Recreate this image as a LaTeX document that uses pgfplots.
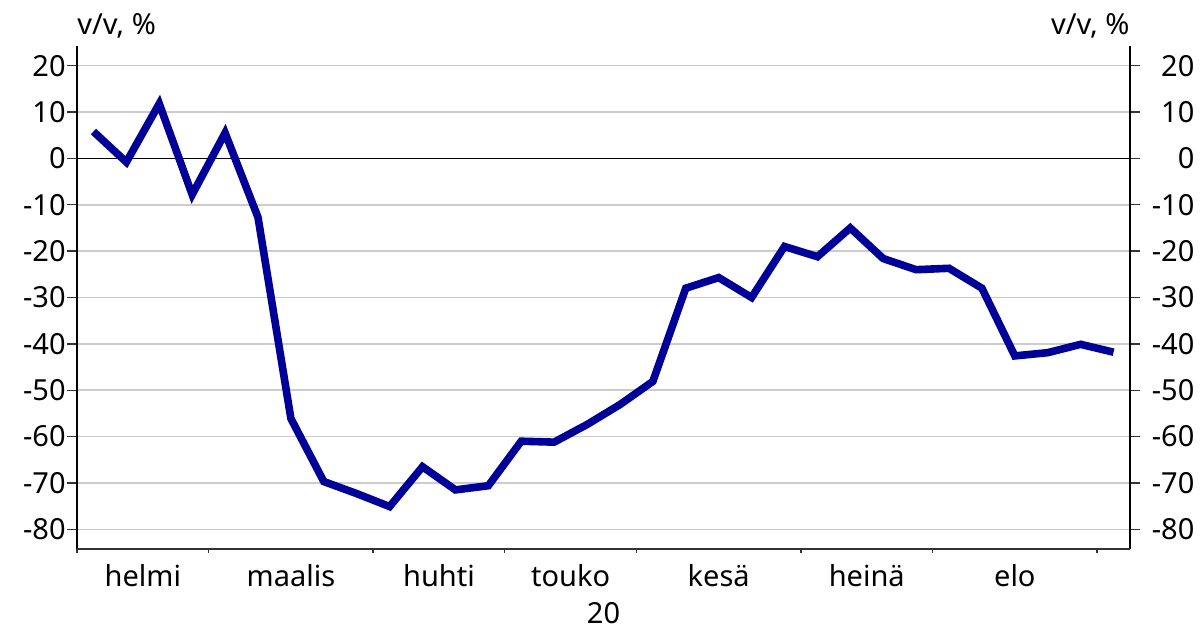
\documentclass[border=0pt]{standalone}
\usepackage{fontspec}
\setmainfont{Noto Sans}
\usepackage{pgfplots}
\pgfplotsset{compat=1.18}
\definecolor{linec}{RGB}{0,0,153}
\definecolor{gridc}{RGB}{204,204,204}
\newcommand{\fs}{\fontsize{14.5bp}{17bp}\selectfont}

\pgfplotstableread{
i v
0 5.8
1 -0.8
2 11.8
3 -7.8
4 5.5
5 -12.7
6 -56.1
7 -69.7
8 -72.3
9 -75.1
10 -66.5
11 -71.5
12 -70.6
13 -61.0
14 -61.2
15 -57.4
16 -53.1
17 -48.1
18 -28.0
19 -25.7
20 -30.0
21 -19.0
22 -21.2
23 -15.0
24 -21.6
25 -24.0
26 -23.7
27 -28.0
28 -42.6
29 -41.9
30 -40.1
31 -41.8
}\datatable

\begin{document}
\begin{tikzpicture}
\pgfplotsset{
 common/.style={
  scale only axis, width=526.5bp, height=251.5bp,
  xmin=-0.5, xmax=31.5, ymin=-84.25, ymax=24.25,
  ytick={-80,-70,...,20},
  yticklabels={-80,-70,-60,-50,-40,-30,-20,-10,0,10,20},
  tick align=outside,
  major tick length=5bp,
  ticklabel style={font=\fs},
  axis line style={-},
 }
}
% left y axis with ticks, labels and grid
\begin{axis}[common,
  axis x line=none, axis y line*=left,
  y axis line style={black, line width=0.7bp},
  y tick style={black!80, line width=0.7bp},
  yticklabel style={anchor=east, inner sep=0pt, xshift=-0.5bp},
  ymajorgrids, major grid style={gridc, line width=0.75bp},
  extra y ticks={0}, extra y tick labels={},
  extra y tick style={grid=major, major grid style={black, line width=0.75bp}},
]
\addplot[draw=none] coordinates {(0,0)};
\end{axis}
% right y axis
\begin{axis}[common,
  axis x line=none, axis y line*=right,
  y axis line style={black, line width=0.7bp},
  y tick style={black!80, line width=0.7bp},
  yticklabel style={anchor=west, inner sep=0pt, text width=27bp, align=right},
]
\addplot[draw=none] coordinates {(0,0)};
\end{axis}
% main axis: x axis, data
\begin{axis}[common,
  major tick length=2bp,
  axis x line*=bottom, axis y line=none,
  x axis line style={color=black!80, line width=1bp},
  xtick={-0.5,3.5,8.5,12.5,16.5,21.5,25.5,30.5},
  xticklabels={},
  x tick style={black!80, line width=0.7bp},
  clip=false,
]
\addplot[linec, line width=3.8bp, no marks] table[x=i, y=v] {\datatable};
\coordinate (ll) at (rel axis cs:0,0);
\coordinate (ur) at (rel axis cs:1,1);
\node[anchor=base, font=\fs, yshift=-18.5bp] at (axis cs:1.5,-84.25) {helmi};
\node[anchor=base, font=\fs, yshift=-18.5bp] at (axis cs:6,-84.25) {maalis};
\node[anchor=base, font=\fs, yshift=-18.5bp] at (axis cs:10.5,-84.25) {huhti};
\node[anchor=base, font=\fs, yshift=-18.5bp] at (axis cs:14.5,-84.25) {touko};
\node[anchor=base, font=\fs, yshift=-18.5bp] at (axis cs:19,-84.25) {kesä};
\node[anchor=base, font=\fs, yshift=-18.5bp] at (axis cs:23.5,-84.25) {heinä};
\node[anchor=base, font=\fs, yshift=-18.5bp] at (axis cs:28,-84.25) {elo};
\node[anchor=base, font=\fs, inner sep=0pt, yshift=-37bp] at (axis cs:15.5,-84.25) {20};
\node[anchor=base west, font=\fs, inner sep=0pt, yshift=5.5bp] at (rel axis cs:0,1) {v/v, \%};
\node[anchor=base east, font=\fs, inner sep=0pt, yshift=5.5bp] at (rel axis cs:1,1) {v/v, \%};
\end{axis}
\pgfresetboundingbox
\path[use as bounding box] ([xshift=-38.5bp, yshift=-40.5bp]ll) rectangle ([xshift=36bp, yshift=23bp]ur);
\end{tikzpicture}
\end{document}
